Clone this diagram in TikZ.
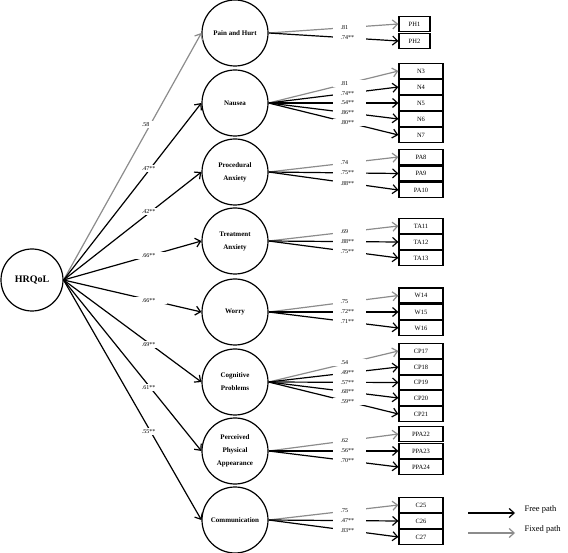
\documentclass[tikz,border=0pt]{standalone}
\usepackage{fontspec}
\setmainfont{Liberation Serif}
\usetikzlibrary{arrows.meta}

\definecolor{fixgray}{gray}{0.55}

\tikzset{
  latent/.style={draw, circle, line width=1.2pt, minimum size=66pt, inner sep=0pt,
    align=center, font=\fontsize{7}{13}\selectfont\bfseries},
  item/.style={draw, line width=1.2pt, minimum width=44pt, minimum height=15pt,
    inner sep=0pt, font=\fontsize{6.5}{7}\selectfont},
  free/.style={line width=1.2pt, -{Straight Barb[length=5pt,width=9pt]}},
  fixed/.style={free, draw=fixgray},
  coef/.style={fill=white, inner xsep=8pt, inner ysep=1.5pt, text width=17pt,
    align=left, font=\fontsize{6}{6}\selectfont},
}

\begin{document}
\begin{tikzpicture}[x=1pt,y=-1pt]
\useasboundingbox (0,0) rectangle (568,553);

%Fattore generale
\node[latent, minimum size=62pt, font=\fontsize{10}{12}\selectfont\bfseries] (hrqol) at (32,280) {HRQoL};

%Fattori specifici
\foreach \name/\y/\txt in {ph/33/{Pain and Hurt}, na/103/{Nausea},
    pa/172/{Procedural\\Anxiety}, ta/241/{Treatment\\Anxiety}, wo/312/{Worry},
    cp/382/{Cognitive\\Problems}, pp/451/{Perceived\\Physical\\Appearance},
    co/520/{Communication}}
  \node[latent] (\name) at (235,\y) {\txt};

\foreach \name/\c/\s in {ph/.58/fixed, na/.47**/free, pa/.42**/free, ta/.66**/free,
    wo/.66**/free, cp/.69**/free, pp/.61**/free, co/.55**/free}
  \draw[\s] (hrqol.east) -- node[coef, pos=0.63] {\c} (\name.west);

%Item
\begin{scope}
\foreach \bx/\y/\c/\s in {PH1/24/.81/fixed, PH2/41/.74**/free}{
  \node[item, minimum width=31pt] (\bx) at (414.5,\y) {\bx};
  \draw[\s] (ph.east) -- node[coef, pos=0.62] {\c} (\bx.west);
}
\end{scope}

\begin{scope}
\foreach \lat/\bx/\y/\c/\s in {
    na/N3/71/.81/fixed, na/N4/87/.74**/free, na/N5/103/.54**/free,
    na/N6/119/.86**/free, na/N7/135/.80**/free,
    pa/PA8/157/.74/fixed, pa/PA9/173.5/.75**/free, pa/PA10/190/.88**/free,
    ta/TA11/226/.69/fixed, ta/TA12/242/.88**/free, ta/TA13/258/.75**/free,
    wo/W14/295.5/.75/fixed, wo/W15/312/.72**/free, wo/W16/328/.71**/free,
    cp/CP17/351/.54/fixed, cp/CP18/367/.49**/free, cp/CP19/382.5/.57**/free,
    cp/CP20/398/.68**/free, cp/CP21/414/.59**/free,
    pp/PPA22/434/.62/fixed, pp/PPA23/451/.56**/free, pp/PPA24/467/.70**/free,
    co/C25/505/.75/fixed, co/C26/521/.47**/free, co/C27/537/.83**/free}{
  \node[item] (\bx) at (421,\y) {\bx};
  \draw[\s] (\lat.east) -- node[coef, pos=0.62] {\c} (\bx.west);
}
\end{scope}

%Legenda
\coordinate (fr1) at (468,513);
\coordinate (fr2) at (515,513);
\coordinate (fx1) at (468,533);
\coordinate (fx2) at (515,533);
\draw[free] (fr1) -- (fr2);
\draw[fixed] (fx1) -- (fx2);
\node[anchor=west, font=\fontsize{8.5}{9}\selectfont] (frtxt) at (521,509) {Free path};
\node[anchor=west, font=\fontsize{8.5}{9}\selectfont] (fxtxt) at (521,529) {Fixed path};

\end{tikzpicture}
\end{document}
